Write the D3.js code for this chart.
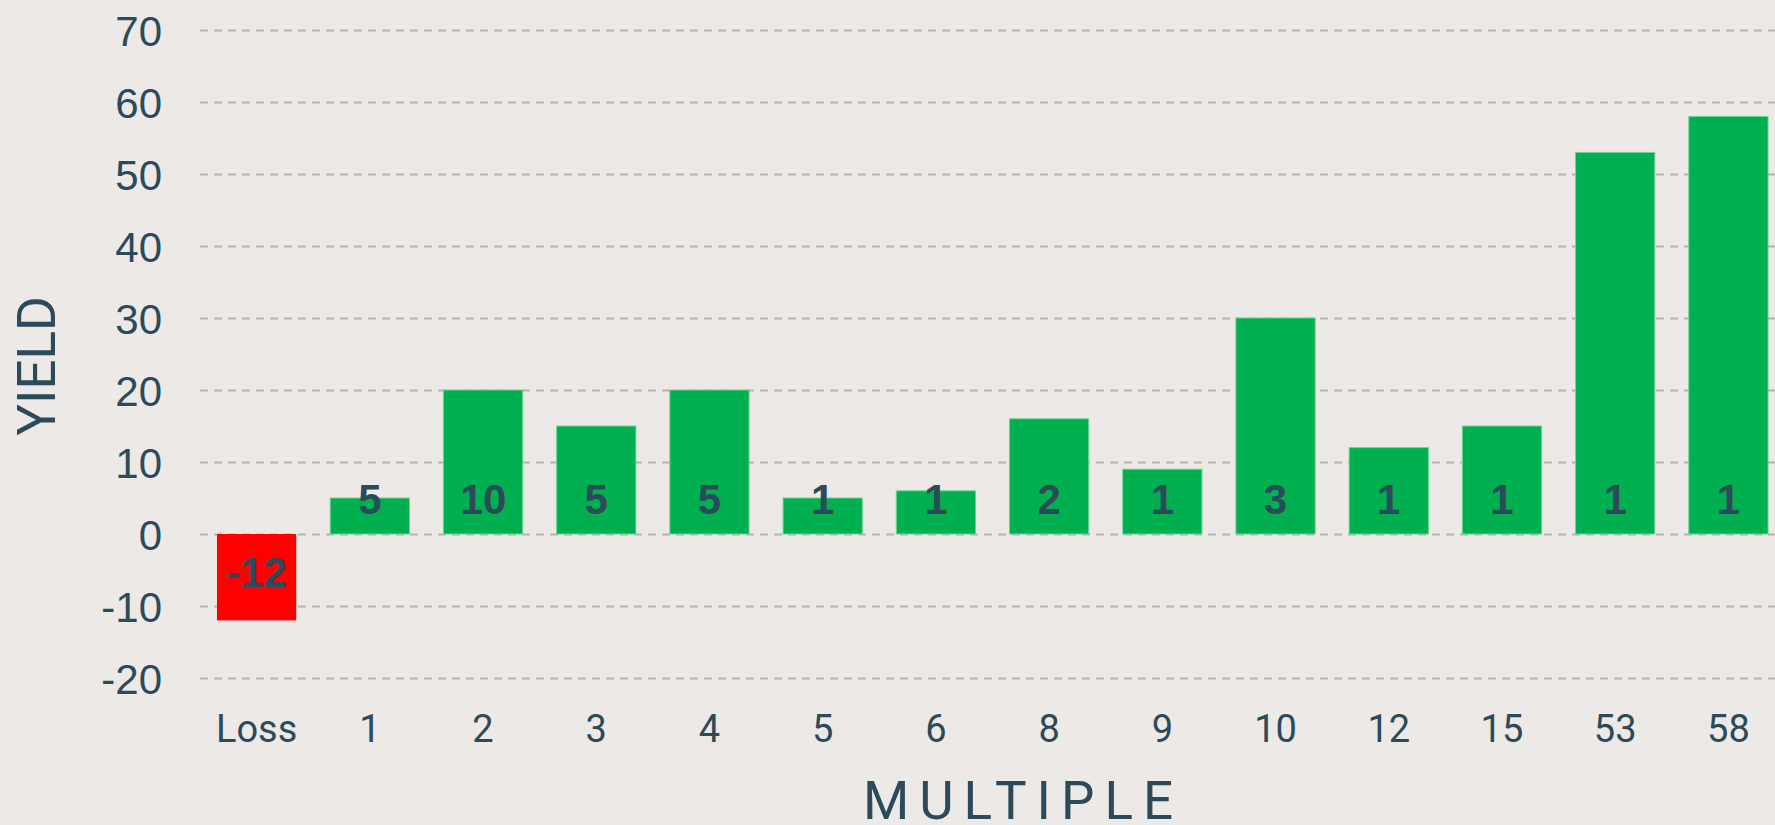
<!DOCTYPE html>
<html>
<head>
<meta charset="utf-8">
<script src="https://cdn.jsdelivr.net/npm/d3@7"></script>
<style>
	html, body { margin: 0; padding: 0; background: #ece9e6; }
	svg { display: block; }
	.grid-lines line { stroke: #b6b3af; stroke-width: 2; stroke-dasharray: 8,6; }
	.grid-lines .domain { display: none; }
	.axis .domain, .axis line { display: none; }
	.axis-left text { font-family: "Liberation Sans", Arial, sans-serif; font-size: 42px; fill: #2b4a5a; }
	.axis-bottom text { font-family: Roboto, sans-serif; font-size: 38px; fill: #2b4a5a; }
	.bar-label { font-family: "Liberation Sans", Arial, sans-serif; font-weight: bold; font-size: 42px; fill: #2b4a5a; }
	.axis-title { font-family: Roboto, sans-serif; font-size: 53px; fill: #2b4a5a; }
</style>
</head>
<body>
<div id="chart"></div>
<script>
	// data
	var categories = ['Loss', '1', '2', '3', '4', '5', '6', '8', '9', '10', '12', '15', '53', '58'];
	var yieldValues = [-12, 5, 20, 15, 20, 5, 6, 16, 9, 30, 12, 15, 53, 58];
	var countLabels = ['-12', '5', '10', '5', '5', '1', '1', '2', '1', '3', '1', '1', '1', '1'];
	var yTicks = [-20, -10, 0, 10, 20, 30, 40, 50, 60, 70];

	var width = 1775,
		height = 825;

	var svg = d3.select('#chart')
		.append('svg')
			.attr('width', width)
			.attr('height', height);

	var xScale = d3.scaleBand()
			.domain(categories)
			.range([200, 1785])
			.paddingInner(0.3)
			.paddingOuter(0.15),
		yScale = d3.scaleLinear().domain([-20, 70]).range([678, 30]);

	// GRID
	svg.append('g')
		.attr('class', 'grid-lines')
		.attr('transform', 'translate(200,0)')
		.call(d3.axisLeft(yScale).tickValues(yTicks).tickSize(-(width - 200)).tickFormat(''));

	// AXES
	svg.append('g')
		.attr('class', 'axis axis-left')
		.attr('transform', 'translate(200,0)')
		.call(d3.axisLeft(yScale).tickValues(yTicks).tickSize(0).tickPadding(38)
			.tickFormat(function (d) { return String(d); }))
		.selectAll('text')
			.attr('dy', '0.36em');

	svg.append('g')
		.attr('class', 'axis axis-bottom')
		.attr('transform', 'translate(0,742)')
		.call(d3.axisBottom(xScale).tickSize(0).tickPadding(0))
		.selectAll('text')
			.attr('dy', 0);

	// BARS
	var data = categories.map(function (c, i) {
		return { cat: c, value: yieldValues[i], label: countLabels[i] };
	});

	svg.append('g')
		.selectAll('rect')
		.data(data)
		.enter()
		.append('rect')
			.attr('x', function (d) { return xScale(d.cat); })
			.attr('y', function (d) { return yScale(Math.max(0, d.value)); })
			.attr('width', xScale.bandwidth())
			.attr('height', function (d) { return Math.abs(yScale(d.value) - yScale(0)); })
			.attr('fill', function (d) { return d.value < 0 ? '#ff0000' : '#00af50'; })
			.attr('stroke', function (d) { return d.value < 0 ? 'none' : '#6fd49a'; })
			.attr('stroke-width', 1);

	// LABELS
	svg.append('g')
		.selectAll('text')
		.data(data)
		.enter()
		.append('text')
			.attr('class', 'bar-label')
			.attr('text-anchor', 'middle')
			.attr('x', function (d) { return xScale(d.cat) + xScale.bandwidth() / 2; })
			.attr('y', function (d) { return d.value < 0 ? yScale(0) + 53 : yScale(0) - 20; })
			.text(function (d) { return d.label; });

	// TITLES
	svg.append('text')
		.attr('class', 'axis-title')
		.attr('text-anchor', 'middle')
		.attr('transform', 'translate(55,366) rotate(-90)')
		.text('YIELD');

	svg.append('text')
		.attr('class', 'axis-title')
		.attr('text-anchor', 'middle')
		.attr('x', 1023)
		.attr('y', 819)
		.style('letter-spacing', '10px')
		.text('MULTIPLE');
</script>
</body>
</html>
